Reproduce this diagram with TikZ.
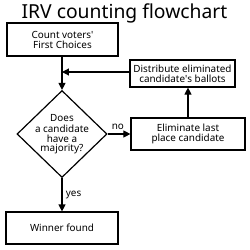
\documentclass[tikz,border=0pt]{standalone}
\usepackage{fontspec}
\setmainfont{Noto Sans}
\usepackage{tikz}
\usetikzlibrary{arrows.meta,shapes.geometric,positioning,calc}

\begin{document}
\begin{tikzpicture}[x=1pt,y=1pt,
    box/.style={draw,line width=1.2pt,align=center,inner sep=0pt,
      font=\fontsize{9.9}{10}\selectfont},
    arr/.style={line width=1.2pt,-{Triangle[length=7pt,width=7pt]}}]
  \useasboundingbox (0,0) rectangle (250,250);

  % Title
  \node[font=\fontsize{19.3}{22}\selectfont] (title) at (124.5,237) {IRV counting flowchart};

  % Boxes
  \node[box,minimum width=111pt,minimum height=33pt] (count) at (62.5,210.5) {Count voters\textquotesingle\\First Choices};
  \node[box,minimum width=105pt,minimum height=27pt] (distr) at (182.5,176.5) {Distribute eliminated\\candidate\textquotesingle s ballots};
  \node[box,minimum width=114pt,minimum height=32pt] (elim) at (188,116) {Eliminate last\\place candidate};
  \node[box,minimum width=112pt,minimum height=32pt] (winner) at (62,22) {Winner found};

  % Decision
  \node[box,diamond,minimum width=90pt,minimum height=87pt,
    label={[align=center,font=\fontsize{9.9}{9.6}\selectfont]center:{\strut Does\\a candidate\\have a\\majority?}}] (major) at (62,116) {};
  \coordinate (join) at (62,178);

  % Connectors
  \draw[line width=1.2pt] (count.south -| join) -- (join);
  \draw[arr] (join) -- (major.north);
  \draw[arr] (distr.west |- join) -- (join);
  \draw[arr] (major.east) -- node[above,pos=0.45,font=\fontsize{9.9}{10}\selectfont] {no} (elim.west);
  \draw[arr] (elim.north) -- (elim.north |- distr.south);
  \draw[arr] (major.south) -- node[right,font=\fontsize{9.9}{10}\selectfont] {yes} (winner.north);
\end{tikzpicture}
\end{document}
